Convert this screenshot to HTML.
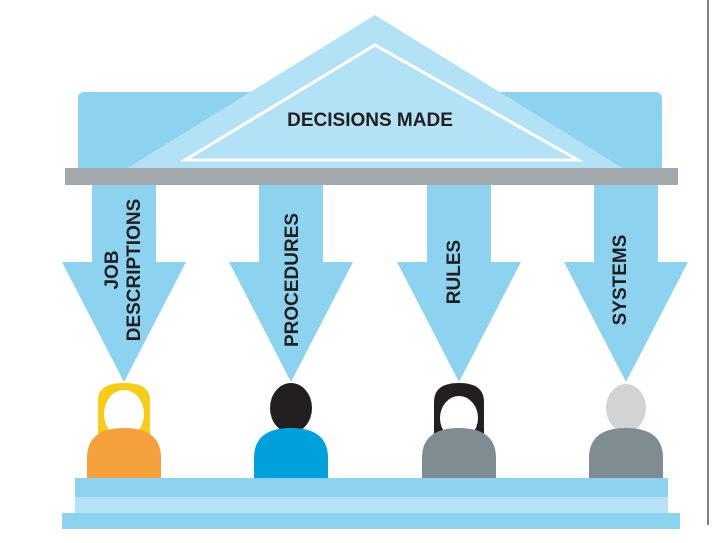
<!DOCTYPE html>
<html><head><meta charset="utf-8"><style>
html,body{margin:0;padding:0;background:#fff;}
svg{display:block;}
text{font-family:"Liberation Sans",sans-serif;font-weight:bold;fill:#231f20;}
</style></head><body>
<svg width="720" height="543" viewBox="0 0 720 543" xmlns="http://www.w3.org/2000/svg">
<line x1="708" y1="0" x2="708" y2="525" stroke="#555" stroke-width="1.5"/>
<!-- entablature -->
<rect x="78" y="92" width="584" height="82" rx="6" fill="#8dd3f0"/>
<polygon points="375,15 650,185 100,185" fill="#b3e1f6"/>
<polygon points="375,45 578,160 185,160" fill="none" stroke="#fff" stroke-width="3"/>
<text x="370" y="126" font-size="19" text-anchor="middle">DECISIONS MADE</text>
<rect x="65" y="168" width="613" height="17" fill="#a2a8ab"/>
<!-- arrows -->
<g fill="#8dd3f0">
<polygon points="92,185 156,185 156,262 186,262 124,382 62,262 92,262"/>
<polygon points="259,185 323,185 323,262 353,262 291,382 229,262 259,262"/>
<polygon points="427,185 491,185 491,262 521,262 459,382 397,262 427,262"/>
<polygon points="594,185 658,185 658,262 688,262 626,382 564,262 594,262"/>
</g>
<g font-size="19">
<text transform="translate(124,270) rotate(-90)" text-anchor="middle" x="0" y="-6">JOB</text>
<text transform="translate(124,270) rotate(-90)" text-anchor="middle" x="0" y="16">DESCRIPTIONS</text>
<text transform="translate(298,280) rotate(-90)" text-anchor="middle">PROCEDURES</text>
<text transform="translate(460,272) rotate(-90)" text-anchor="middle">RULES</text>
<text transform="translate(626,280) rotate(-90)" text-anchor="middle">SYSTEMS</text>
</g>
<!-- people -->
<path d="M98,440 V400 Q98,383 124,383 Q150,383 150,400 V440Z" fill="#f5cc1b"/>
<ellipse cx="124" cy="414" rx="20" ry="24" fill="#fff"/>
<path d="M87,478 V458 Q87,428 124,428 Q161,428 161,458 V478Z" fill="#f4a03c"/>
<ellipse cx="291" cy="408" rx="21" ry="25" fill="#231f20"/>
<path d="M254,478 V458 Q254,428 291,428 Q328,428 328,458 V478Z" fill="#00a0dc"/>
<path d="M434,440 V402 Q434,383 459,383 Q484,383 484,402 V440Z" fill="#231f20"/>
<ellipse cx="459" cy="418" rx="19" ry="22" fill="#fff"/>
<path d="M422,478 V458 Q422,428 459,428 Q496,428 496,458 V478Z" fill="#7f8c91"/>
<ellipse cx="626" cy="408" rx="20" ry="24" fill="#d2d3d4"/>
<path d="M589,478 V458 Q589,428 626,428 Q663,428 663,458 V478Z" fill="#7f8c91"/>
<!-- platform -->
<rect x="75" y="478" width="593" height="19" fill="#8dd3f0"/>
<rect x="75" y="497" width="593" height="16" fill="#b5e2f6"/>
<rect x="62" y="513" width="618" height="16" fill="#8dd3f0"/>
</svg>
</body></html>
